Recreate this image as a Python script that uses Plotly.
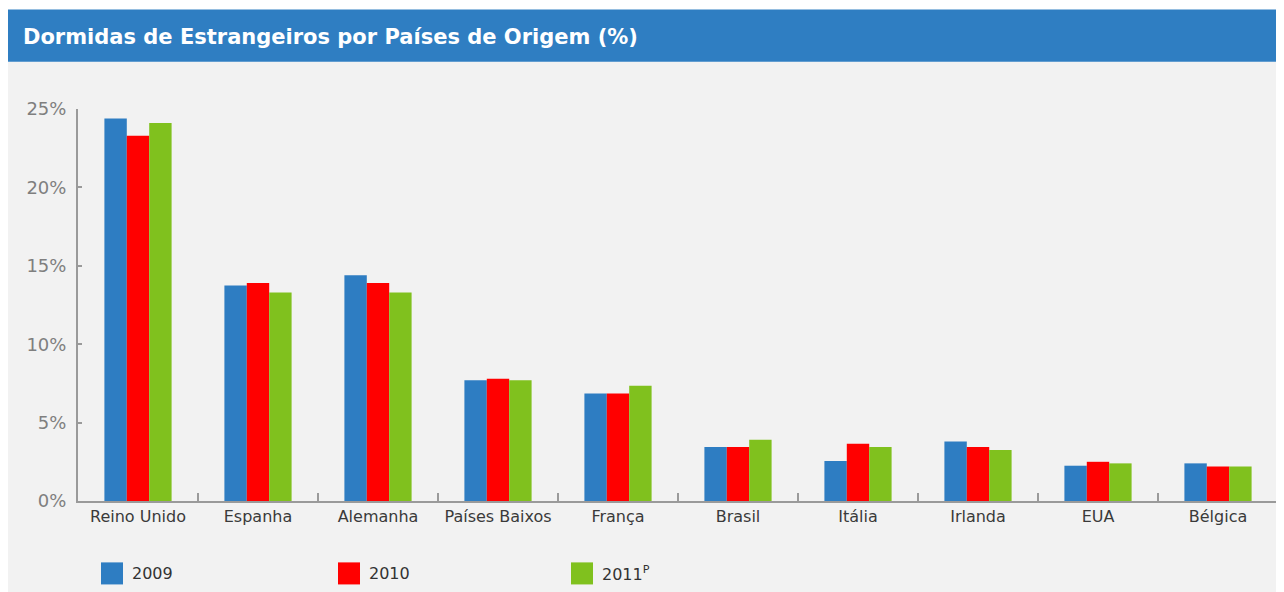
import plotly.graph_objects as go

categories = ["Reino Unido", "Espanha", "Alemanha", "Países Baixos", "França",
              "Brasil", "Itália", "Irlanda", "EUA", "Bélgica"]
series_names = ["2009", "2010", "2011<sup>P</sup>"]
v2009 = [24.4, 13.75, 14.4, 7.7, 6.85, 3.45, 2.55, 3.8, 2.25, 2.4]
v2010 = [23.3, 13.9, 13.9, 7.8, 6.85, 3.45, 3.65, 3.45, 2.5, 2.2]
v2011 = [24.1, 13.3, 13.3, 7.7, 7.35, 3.9, 3.45, 3.25, 2.4, 2.2]
colors = ["#2E7DC2", "#FF0000", "#80C11E"]
title = "Dormidas de Estrangeiros por Países de Origem (%)"

W, H = 1284, 592
OFF = 8  # page body margin
L, R = 78 - OFF, 1278 - OFF
TOP, BOT = 109.3 - OFF, 500.7 - OFF
FONT = "DejaVu Sans"


def px(x):
    return (x - OFF - L) / (R - L)


def py(y):
    return (BOT - (y - OFF)) / (BOT - TOP)


fig = go.Figure()
for name, vals, col in zip(series_names, [v2009, v2010, v2011], colors):
    fig.add_trace(go.Bar(x=categories, y=vals, name=name, marker_color=col,
                         marker_line_width=0, showlegend=False))

shapes = [
    dict(type="rect", xref="paper", yref="paper", x0=px(5), x1=px(1300),
         y0=py(620), y1=py(62), fillcolor="#F2F2F2", line_width=0, layer="below"),
    dict(type="rect", xref="paper", yref="paper", x0=px(5), x1=px(1300),
         y0=py(62), y1=py(10), fillcolor="#2F7EC2", line_width=0, layer="below"),
]
annotations = [
    dict(text="<b>" + title + "</b>", xref="paper", yref="paper", x=px(21), y=py(37),
         xanchor="left", yanchor="middle", showarrow=False,
         font=dict(family=FONT, size=21, color="white")),
]
leg_x = [101, 338, 571]
for name, col, lx in zip(series_names, colors, leg_x):
    shapes.append(dict(type="rect", xref="paper", yref="paper", x0=px(lx), x1=px(lx + 22),
                       y0=py(584), y1=py(562), fillcolor=col, line_width=0))
    annotations.append(dict(text=name, xref="paper", yref="paper", x=px(lx + 29), y=py(573),
                            xanchor="left", yanchor="middle", showarrow=False,
                            font=dict(family=FONT, size=16, color="#333333")))

fig.update_layout(
    width=W, height=H,
    margin=dict(l=L, r=W - R, t=TOP, b=H - BOT, pad=0),
    paper_bgcolor="white", plot_bgcolor="rgba(0,0,0,0)",
    barmode="group", bargap=0.44, bargroupgap=0,
    shapes=shapes, annotations=annotations, showlegend=False,
    xaxis=dict(showline=True, linecolor="#9A9A9A", linewidth=2, ticks="inside",
               tickson="boundaries", ticklen=8, tickwidth=2, tickcolor="#9A9A9A",
               showgrid=False, tickfont=dict(family=FONT, size=16, color="#3A3A3A"),
               fixedrange=True),
    yaxis=dict(range=[0, 25], dtick=5, ticksuffix="%", showline=True, linecolor="#9A9A9A",
               linewidth=2, ticks="inside", ticklen=4, tickwidth=2, tickcolor="#9A9A9A",
               showgrid=False, zeroline=False, ticklabelstandoff=6,
               tickfont=dict(family=FONT, size=18, color="#7F7F7F"), fixedrange=True),
)

fig.write_html("out.html")
